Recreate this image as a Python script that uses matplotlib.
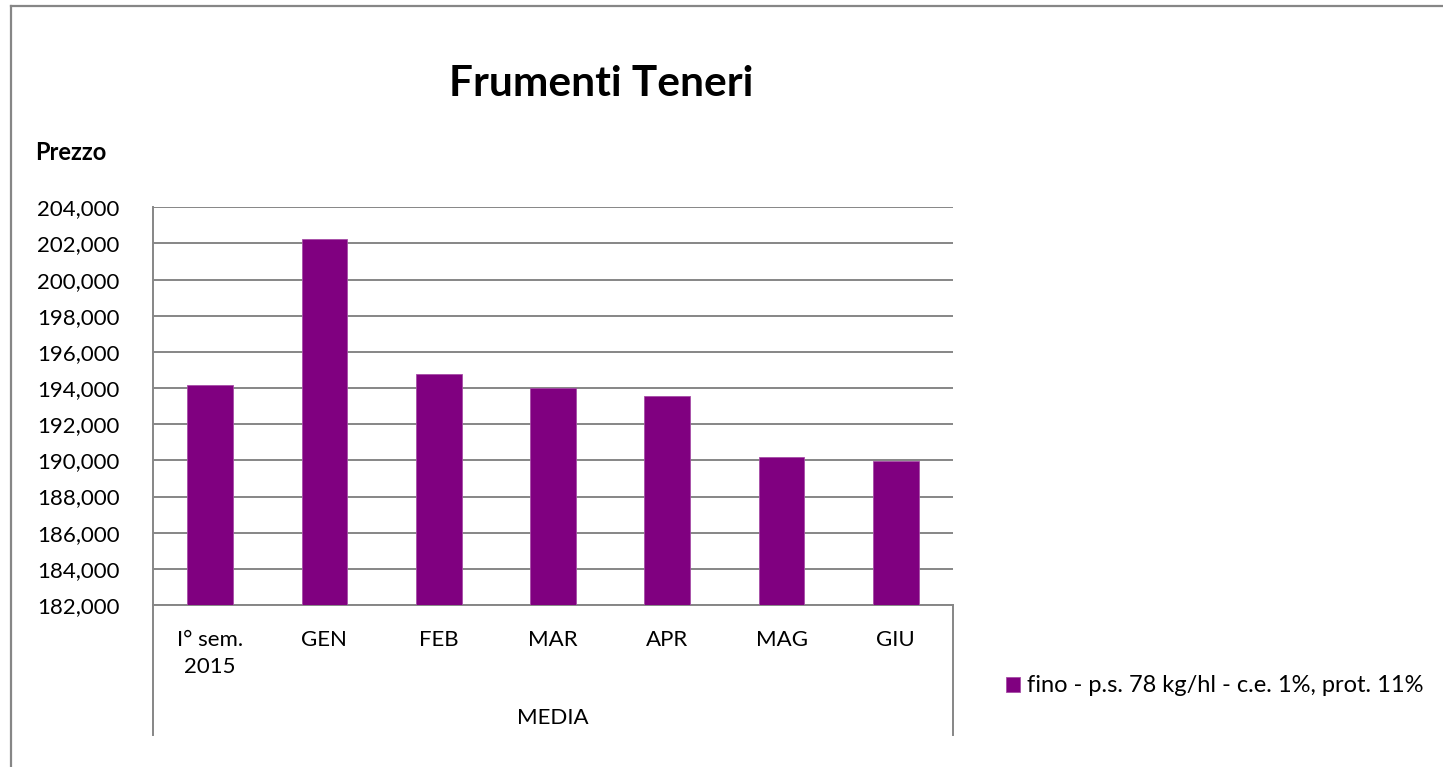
import matplotlib
matplotlib.use("Agg")
import matplotlib.pyplot as plt
from matplotlib.lines import Line2D
from matplotlib.ticker import FuncFormatter

plt.rcParams["font.family"] = ["Lato", "DejaVu Sans"]

categories = ["I° sem.\n2015", "GEN", "FEB", "MAR", "APR", "MAG", "GIU"]
prices = [194144, 202227, 194753, 194000, 193589, 190206, 189961]
yticks = list(range(182000, 204001, 2000))
series_name = "fino - p.s. 78 kg/hl - c.e. 1%, prot. 11%"

W, H = 1443, 767
fig = plt.figure(figsize=(W / 100, H / 100), dpi=100)
ax = fig.add_axes([153 / W, 1 - 605 / H, 800 / W, (605 - 207.3) / H])

grey = "#868686"
fs = 16
x = range(len(categories))
bars = ax.bar(x, prices, width=0.4, color="#800080", edgecolor="#a64da6",
              linewidth=0.6, zorder=3, label=series_name)

ax.set_ylim(182000, 204000)
ax.set_xlim(-0.5, len(categories) - 0.5)
ax.set_yticks(yticks)
ax.yaxis.set_major_formatter(FuncFormatter(lambda v, p: f"{v:,.0f}"))
ax.yaxis.grid(True, color=grey, linewidth=1.4, zorder=0)
ax.set_axisbelow(True)

ax.set_xticks(list(x))
ax.set_xticklabels(categories, fontsize=fs, linespacing=1.45, va="top")
ax.tick_params(axis="x", length=0, pad=18)
ax.tick_params(axis="y", length=0, pad=24, labelsize=fs)

for s in ["top", "right"]:
    ax.spines[s].set_visible(False)
for s in ["left", "bottom"]:
    ax.spines[s].set_color(grey)
    ax.spines[s].set_linewidth(1.4)

# multi-level category axis dividers
axh = 605 - 207.3
drop = (735 - 605) / axh
for xx in (0, 1):
    ax.add_line(Line2D([xx, xx], [0, -drop], transform=ax.transAxes,
                       color=grey, linewidth=1.4, clip_on=False))
ax.text(0.5, -(718 - 605) / axh, "MEDIA", transform=ax.transAxes,
        ha="center", va="center", fontsize=fs)

fig.text(601 / W, 1 - 84 / H, "Frumenti Teneri", ha="center", va="center",
         fontsize=30.5, fontweight="bold")
fig.text(35 / W, 1 - 153 / H, "Prezzo", ha="left", va="center",
         fontsize=17, fontweight="bold")

fig.legend(handles=[bars], loc="center left",
           bbox_to_anchor=(1006 / W, 1 - 686 / H), frameon=False,
           fontsize=17, handlelength=0.6, handleheight=0.6,
           handletextpad=0.3, borderpad=0, borderaxespad=0)

# chart frame
fig.add_artist(Line2D([11 / W, 11 / W], [0, 1 - 6 / H], color=grey, linewidth=1.6))
fig.add_artist(Line2D([11 / W, 1], [1 - 6 / H, 1 - 6 / H], color=grey, linewidth=1.6))

fig.savefig("out.png", dpi=100, facecolor="white")
